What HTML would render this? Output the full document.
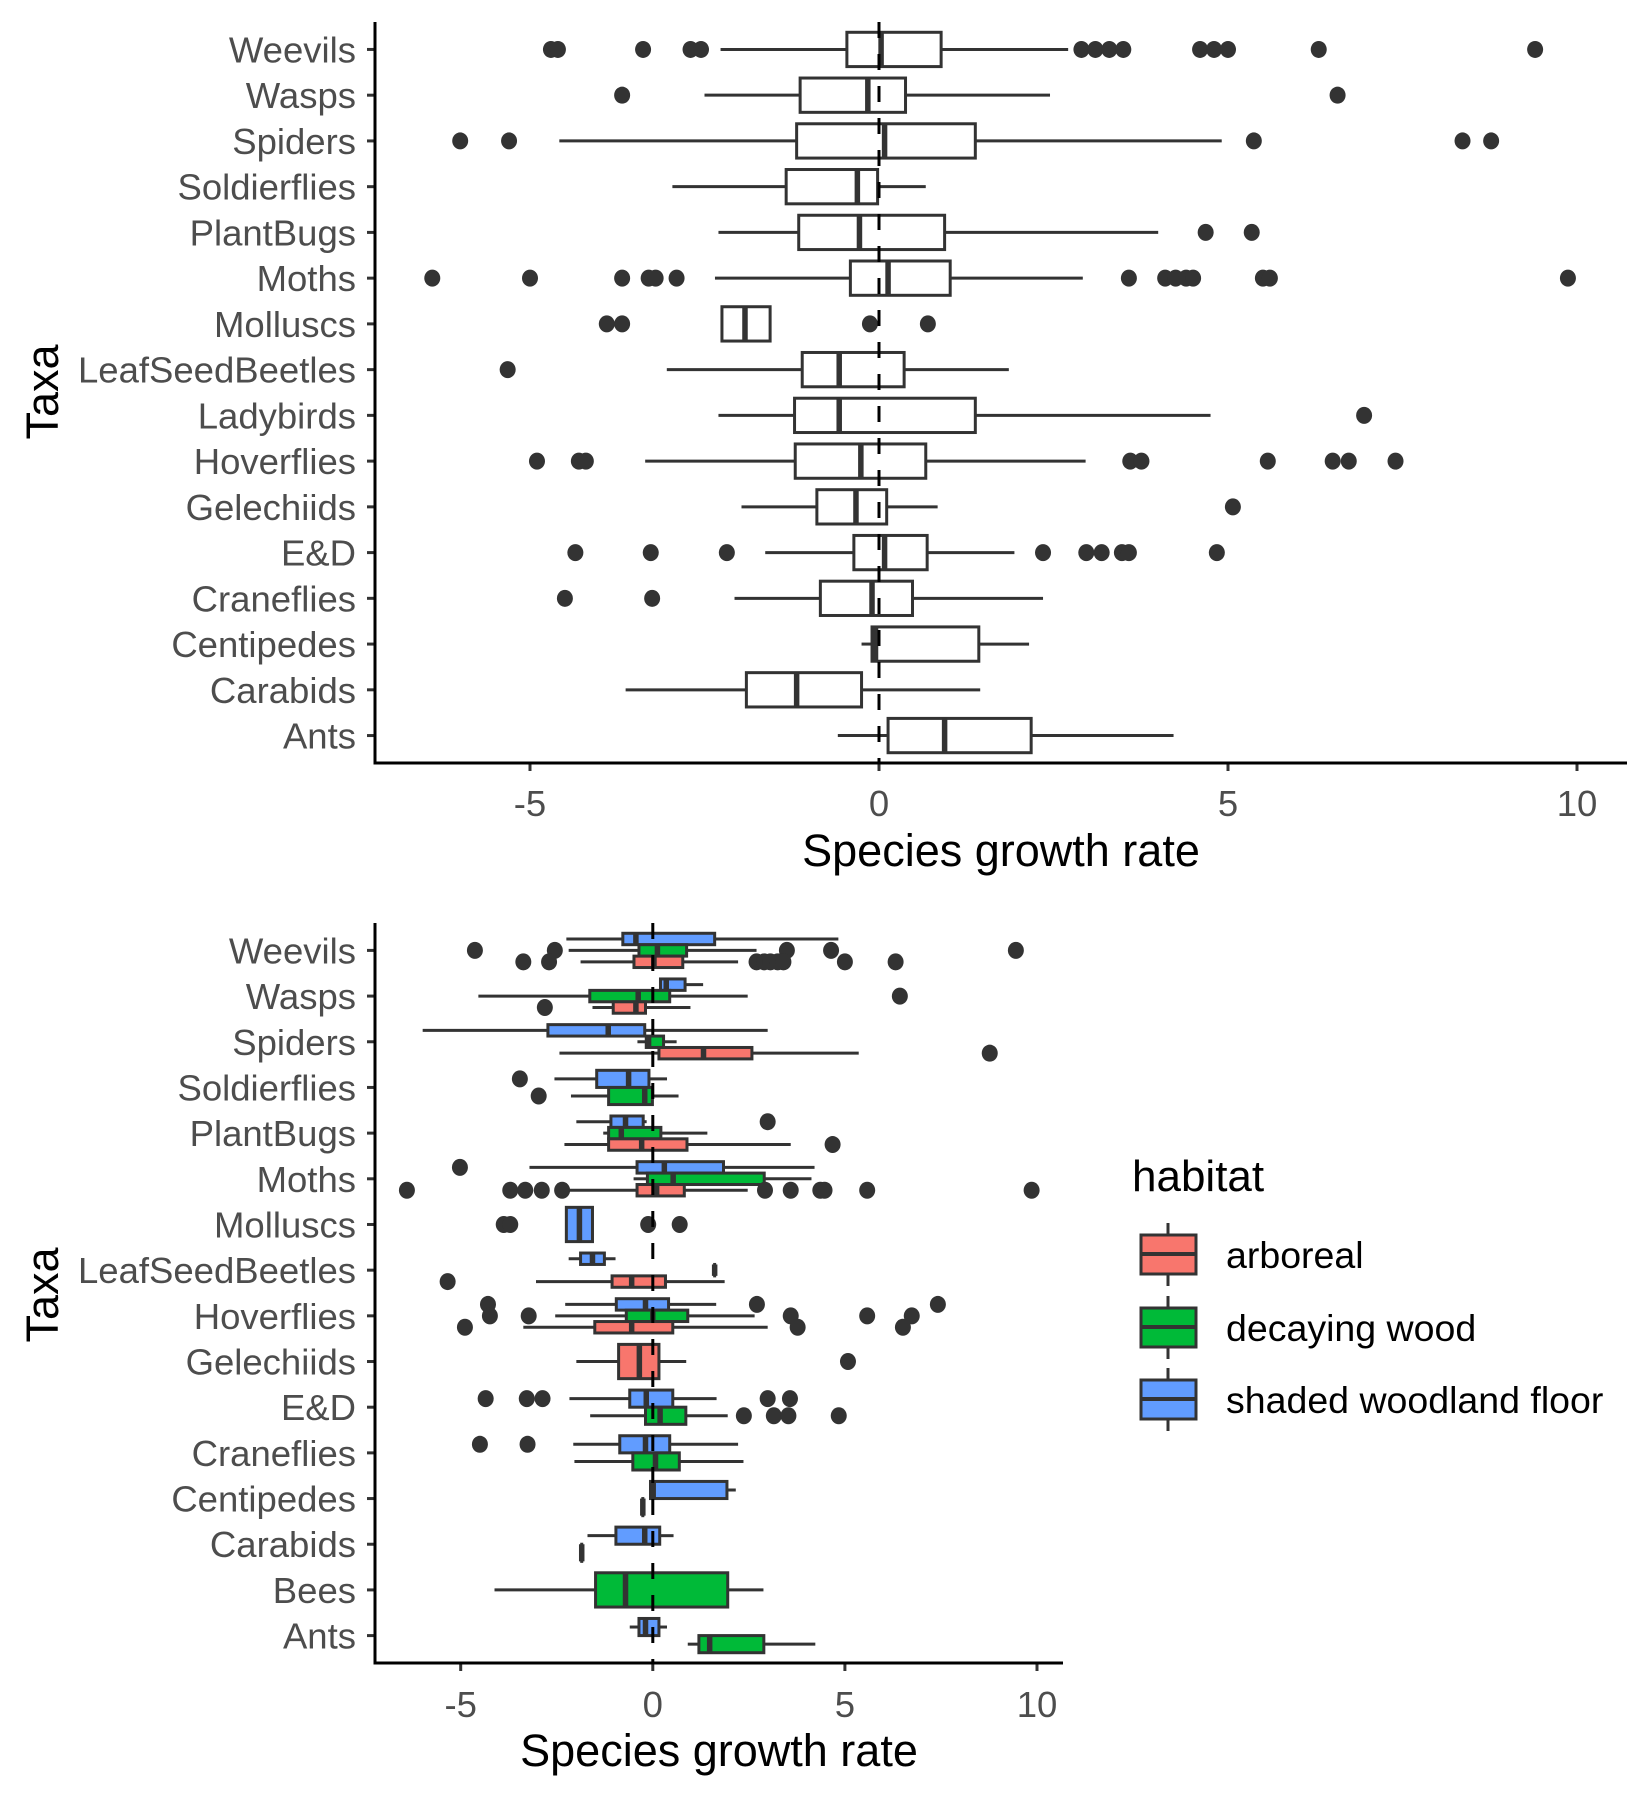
<!DOCTYPE html>
<html><head><meta charset="utf-8"><style>
html,body{margin:0;padding:0;background:#fff;}
svg{display:block;font-family:"Liberation Sans",Arial,sans-serif;}
</style></head><body>
<svg id="chart" width="1650" height="1800" viewBox="0 0 1650 1800" xmlns="http://www.w3.org/2000/svg"></svg>
<script>
// ---------- Top panel data ----------
const topCats = ["Weevils","Wasps","Spiders","Soldierflies","PlantBugs","Moths","Molluscs","LeafSeedBeetles","Ladybirds","Hoverflies","Gelechiids","E&D","Craneflies","Centipedes","Carabids","Ants"];
const topLo  = [-2.27,-2.5,-4.58,-2.96,-2.3,-2.35,-2.25,-3.04,-2.3,-3.35,-1.97,-1.63,-2.07,-0.25,-3.63,-0.59];
const topQ1  = [-0.46,-1.13,-1.18,-1.33,-1.15,-0.41,-2.25,-1.1,-1.21,-1.2,-0.89,-0.36,-0.84,-0.1,-1.9,0.13];
const topMed = [0.03,-0.16,0.08,-0.31,-0.28,0.13,-1.92,-0.57,-0.57,-0.26,-0.33,0.08,-0.1,-0.05,-1.18,0.94];
const topQ3  = [0.89,0.38,1.38,-0.02,0.94,1.02,-1.56,0.36,1.38,0.67,0.11,0.69,0.48,1.43,-0.25,2.18];
const topHi  = [2.71,2.45,4.91,0.67,4.0,2.92,-1.56,1.86,4.75,2.96,0.84,1.94,2.35,2.15,1.45,4.22];
const topOut = [
 [-4.7,-4.6,-3.38,-2.7,-2.55,2.9,3.1,3.3,3.5,4.6,4.8,5.0,6.3,9.4],
 [-3.68,6.57],
 [-6.0,-5.3,5.37,8.36,8.77],
 [],
 [4.68,5.34],
 [-6.4,-5.0,-3.68,-3.3,-3.2,-2.9,3.58,4.1,4.25,4.4,4.5,5.5,5.6,9.87],
 [-3.9,-3.68,-0.13,0.7],
 [-5.32],
 [6.95],
 [-4.9,-4.3,-4.2,3.6,3.76,5.57,6.5,6.73,7.4],
 [5.07],
 [-4.35,-3.27,-2.18,2.35,2.97,3.19,3.48,3.58,4.84],
 [-4.5,-3.25],
 [],
 [],
 []
];
const xTicks = [-5,0,5,10];
const xTickLabels = ["-5","0","5","10"];

// ---------- Bottom panel data ----------
const botCats = ["Weevils","Wasps","Spiders","Soldierflies","PlantBugs","Moths","Molluscs","LeafSeedBeetles","Hoverflies","Gelechiids","E&D","Craneflies","Centipedes","Carabids","Bees","Ants"];
const habitats = ["arboreal","decaying wood","shaded woodland floor"];
const habColors = ["#F8766D","#00BA38","#619CFF"];
const gCat = [0,0,0, 1,1,1, 2,2,2, 3,3, 4,4,4, 5,5,5, 6, 7,7,7, 8,8,8, 9, 10,10, 11,11, 12,12, 13,13, 14, 15,15];
const gHab = [2,1,0, 2,1,0, 2,1,0, 2,1, 2,1,0, 2,1,0, 2, 2,1,0, 2,1,0, 0, 2,1, 2,1, 2,1, 2,1, 1, 2,1];
const gLo  = [-2.25,-2.19,-1.88, 0.2,-4.54,-1.57, -5.99,-0.40,-2.43, -2.56,-2.13, -1.99,-1.29,-2.3, -3.21,-0.5,-2.36, -2.25, -2.19,1.61,-3.04, -2.28,-2.54,-3.37, -1.99, -2.17,-1.63, -2.07,-2.04, -0.06,-0.26, -1.70,-1.85, -4.12, -0.6,0.91];
const gQ1  = [-0.78,-0.36,-0.49, 0.2,-1.64,-1.03, -2.73,-0.17,0.16, -1.46,-1.15, -1.09,-1.15,-1.15, -0.41,-0.14,-0.41, -2.25, -1.88,1.61,-1.06, -0.95,-0.69,-1.51, -0.89, -0.6,-0.19, -0.86,-0.52, -0.06,-0.26, -0.96,-1.85, -1.49, -0.36,1.20];
const gMed = [-0.44,0.12,0.03, 0.35,-0.38,-0.44, -1.16,-0.11,1.32, -0.63,-0.21, -0.71,-0.82,-0.29, 0.30,0.53,0.10, -1.91, -1.57,1.61,-0.55, -0.19,0.0,-0.55, -0.35, -0.17,0.19, -0.19,0.07, 0.01,-0.26, -0.21,-1.85, -0.71, -0.19,1.48];
const gQ3  = [1.61,0.88,0.78, 0.84,0.44,-0.19, -0.21,0.28,2.58, -0.1,-0.01, -0.25,0.21,0.89, 1.84,2.9,0.82, -1.57, -1.26,1.61,0.33, 0.41,0.91,0.52, 0.16, 0.52,0.86, 0.44,0.69, 1.93,-0.26, 0.18,-1.85, 1.95, 0.16,2.89];
const gHi  = [4.83,2.70,2.22, 1.31,2.47,0.98, 2.99,0.62,5.36, 0.37,0.67, -0.16,1.42,3.59, 4.21,4.13,2.47, -1.57, -0.97,1.61,1.87, 1.65,2.65,2.99, 0.87, 1.66,1.95, 2.22,2.36, 2.16,-0.26, 0.54,-1.85, 2.88, 0.37,4.23];
const gOut = [
 [], [-4.63,-2.55,3.49,4.64,9.45], [-3.37,-2.70,2.70,2.9,3.06,3.25,3.40,5.0,6.32],
 [], [6.43], [-2.81],
 [], [], [8.77],
 [-3.46], [-2.97],
 [2.99], [], [4.68],
 [-5.02], [], [-6.4,-3.71,-3.32,-2.89,-2.36,2.92,3.59,4.36,4.47,5.58,9.86],
 [-3.88,-3.71,-0.12,0.70],
 [], [], [-5.34],
 [-4.29,2.71,7.42], [-4.24,-3.23,3.59,5.58,6.74], [-4.89,3.77,6.51],
 [5.08],
 [-4.35,-3.28,-2.87,2.99,3.57], [2.37,3.15,3.53,4.84],
 [-4.5,-3.26], [],
 [], [],
 [], [],
 [],
 [], []
];

const NS = "http://www.w3.org/2000/svg";
const svg = document.getElementById("chart");
function mk(tag, attrs, parent){ const e=document.createElementNS(NS,tag); for(const k in attrs) e.setAttribute(k,attrs[k]); (parent||svg).appendChild(e); return e; }
const LINE="#333333";

function drawBox(g, y, h, lo, q1, med, q3, hi, outs, sx, fill){
  mk("line",{x1:sx(lo),x2:sx(q1),y1:y,y2:y,stroke:LINE,"stroke-width":3},g);
  mk("line",{x1:sx(q3),x2:sx(hi),y1:y,y2:y,stroke:LINE,"stroke-width":3},g);
  const r = mk("rect",{x:sx(q1),y:y-h/2,width:Math.max(0.01,sx(q3)-sx(q1)),height:h,fill:fill,stroke:LINE,"stroke-width":3},g);
  
  
  mk("line",{x1:sx(med),x2:sx(med),y1:y-h/2,y2:y+h/2,stroke:LINE,"stroke-width":5.5},g);
  outs.forEach(v=>{
    const c = mk("ellipse",{cx:sx(v),cy:y,rx:8,ry:8.5,fill:LINE},g);
    
    
  });
}

function panel(opts){
  const {left,right,top,bottom,zeroX,ppu,cats,name,titleY,tickY,taxaY} = opts;
  const sx = v => zeroX + v*ppu;
  const step = (bottom-top)/(cats.length-1+1.2);
  const sy = i => top + 0.6*step + i*step;
  const g = mk("g",{});
  
  
  cats.forEach((c,i)=>{
    mk("line",{x1:left-8,x2:left,y1:sy(i),y2:sy(i),stroke:LINE,"stroke-width":3},g);
    const t = mk("text",{x:left-19,y:sy(i)+13,"text-anchor":"end","font-size":36.5,fill:"#4D4D4D"},g);
    t.textContent=c;
    
    
  });
  xTicks.forEach((v,i)=>{
    mk("line",{x1:sx(v),x2:sx(v),y1:bottom,y2:bottom+8,stroke:LINE,"stroke-width":3},g);
    const t = mk("text",{x:sx(v),y:tickY,"text-anchor":"middle","font-size":36.5,fill:"#4D4D4D"},g);
    t.textContent=xTickLabels[i];
    
    
  });
  const xt = mk("text",{x:(left+right)/2,y:titleY,"text-anchor":"middle","font-size":45,fill:"#000"},g);
  xt.textContent="Species growth rate";
  
  
  const yt = mk("text",{x:0,y:0,"text-anchor":"middle","font-size":45,fill:"#000",transform:`translate(58,${taxaY}) rotate(-90)`},g);
  yt.textContent="Taxa";
  
  
  return {g,sx,sy,step};
}

// ---------- Top panel ----------
const P1 = panel({left:375,right:1627,top:22,bottom:763,zeroX:879,ppu:69.8,cats:topCats,name:"top-panel",titleY:866,tickY:816,taxaY:392});
topCats.forEach((c,i)=>{
  drawBox(P1.g, P1.sy(i), 0.75*P1.step, topLo[i], topQ1[i], topMed[i], topQ3[i], topHi[i], topOut[i], P1.sx, "#ffffff");
});
mk("line",{x1:P1.sx(0),x2:P1.sx(0),y1:22,y2:763,stroke:"#000","stroke-width":3,"stroke-dasharray":"16 16"},P1.g);
mk("line",{x1:375,x2:375,y1:22,y2:764.5,stroke:"#000","stroke-width":3},P1.g);
mk("line",{x1:373.5,x2:1627,y1:763,y2:763,stroke:"#000","stroke-width":3},P1.g);

// ---------- Bottom panel ----------
const P2 = panel({left:375,right:1063,top:923,bottom:1663,zeroX:652.8,ppu:38.42,cats:botCats,name:"bottom-panel",titleY:1766,tickY:1717,taxaY:1295});
const nPer = botCats.map((c,i)=>gCat.filter(k=>k===i).length);
const seen = botCats.map(()=>0);
gCat.forEach((ci,j)=>{
  const n = nPer[ci];
  const h = 0.75*P2.step/n;
  const k = seen[ci]++;
  const y = P2.sy(ci) - 0.375*P2.step + h*(k+0.5);
  drawBox(P2.g, y, h, gLo[j], gQ1[j], gMed[j], gQ3[j], gHi[j], gOut[j], P2.sx, habColors[gHab[j]]);
});
mk("line",{x1:P2.sx(0),x2:P2.sx(0),y1:923,y2:1663,stroke:"#000","stroke-width":3,"stroke-dasharray":"16 16"},P2.g);
mk("line",{x1:375,x2:375,y1:923,y2:1664.5,stroke:"#000","stroke-width":3},P2.g);
mk("line",{x1:373.5,x2:1063,y1:1663,y2:1663,stroke:"#000","stroke-width":3},P2.g);

// ---------- Legend ----------
const lg = mk("g",{});


const lt = mk("text",{x:1132,y:1191,"font-size":44,fill:"#000"},lg);
lt.textContent="habitat";


const legY = [1254,1327,1399];
habitats.forEach((h,i)=>{
  const e = mk("g",{},lg);
  
  
  const cy = legY[i];
  mk("line",{x1:1168,x2:1168,y1:cy-31,y2:cy+32,stroke:LINE,"stroke-width":3},e);
  mk("rect",{x:1141,y:cy-19,width:55,height:39,fill:habColors[i],stroke:LINE,"stroke-width":3},e);
  mk("line",{x1:1141,x2:1196,y1:cy,y2:cy,stroke:LINE,"stroke-width":4},e);
  const t = mk("text",{x:1226,y:cy+14,"font-size":37.5,fill:"#000"},e);
  t.textContent=h;
});
</script>
</body></html>
